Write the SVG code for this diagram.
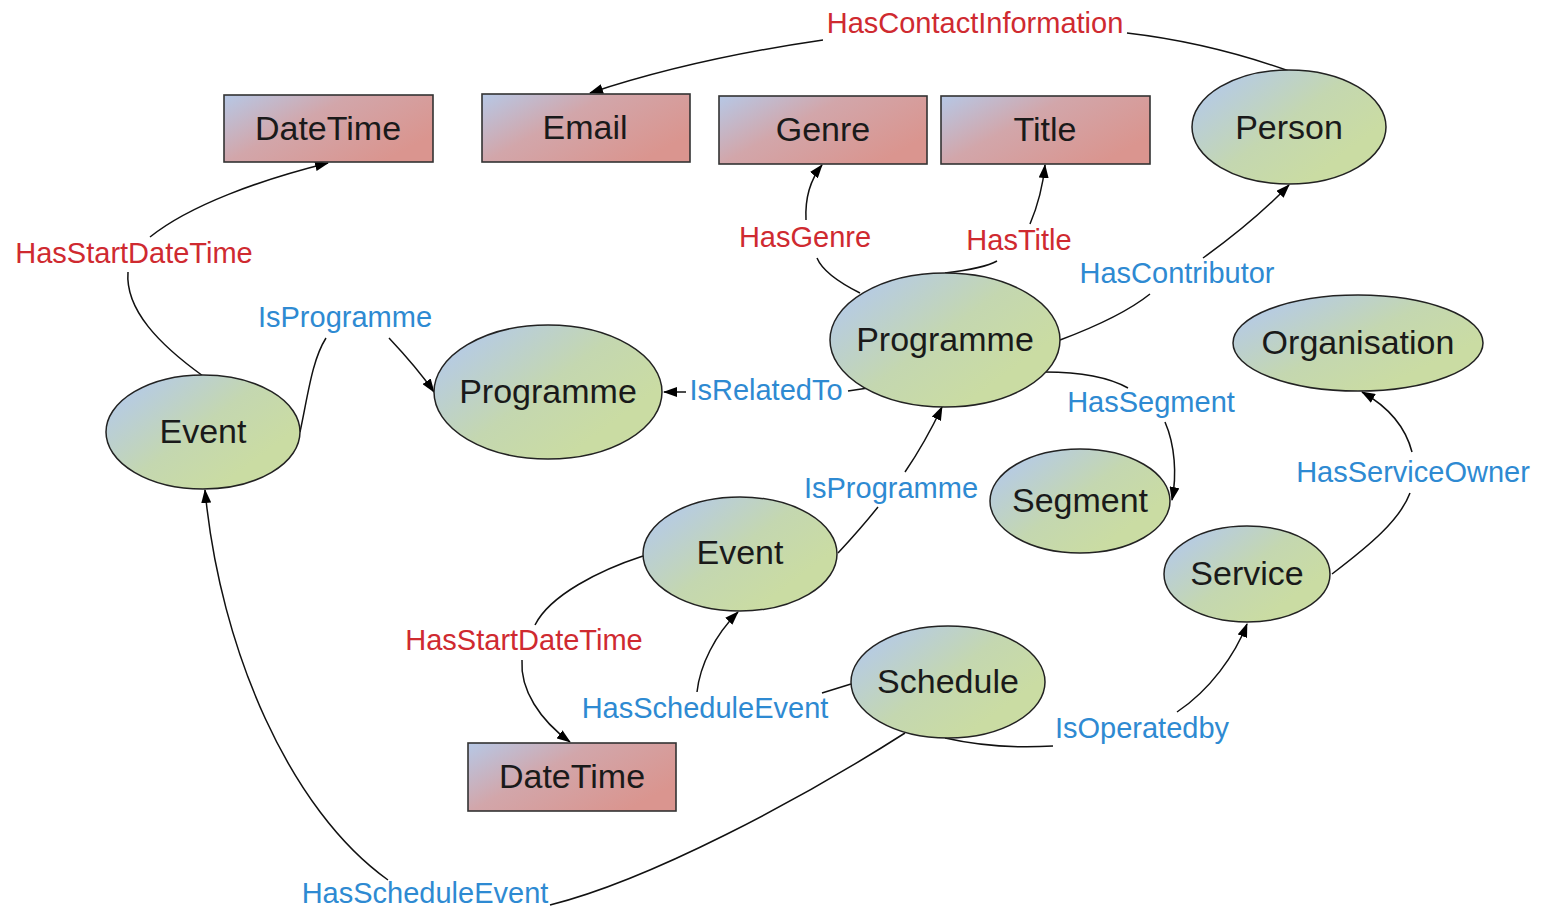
<svg xmlns="http://www.w3.org/2000/svg" width="1550" height="907" viewBox="0 0 1550 907">
<defs>
<linearGradient id="gr" x1="0" y1="0" x2="1" y2="0.6">
<stop offset="0" stop-color="#b6c8e6"/>
<stop offset="0.45" stop-color="#d2a6aa"/>
<stop offset="1" stop-color="#da958f"/>
</linearGradient>
<linearGradient id="ge" x1="0.15" y1="0.1" x2="0.85" y2="0.65">
<stop offset="0" stop-color="#b6cbe4"/>
<stop offset="0.55" stop-color="#c4d7b0"/>
<stop offset="1" stop-color="#cadca3"/>
</linearGradient>
<marker id="ar" markerWidth="14" markerHeight="10" refX="13" refY="5" orient="auto" markerUnits="userSpaceOnUse">
<path d="M0,0 L14,5 L0,10 Z" fill="#000"/>
</marker>
<style>
.r{fill:url(#gr);stroke:#333;stroke-width:1.6}
.e{fill:url(#ge);stroke:#222;stroke-width:1.5}
.n{font-family:"Liberation Sans",Arial,sans-serif;font-size:34px;fill:#1a1a1a;text-anchor:middle}
.l{font-family:"Liberation Sans",Arial,sans-serif;font-size:29px;text-anchor:middle}
.red{fill:#cf2a30}
.blue{fill:#2e8ad2}
.c{fill:none;stroke:#111;stroke-width:1.5}
.a{marker-end:url(#ar)}
</style>
</defs>
<rect width="1550" height="907" fill="#fff"/>
<g id="connectors">
<path class="c" d="M1289,71 C1230,50 1170,38 1127,33"/>
<path class="c a" d="M823,40 C720,55 650,73 590,93"/>
<path class="c" d="M203,376 C160,345 125,310 128,272"/>
<path class="c a" d="M150,237 C190,205 260,180 328,163"/>
<path class="c" d="M300,432 C308,395 312,360 326,338"/>
<path class="c a" d="M389,338 C405,355 420,372 434,392"/>
<path class="c" d="M868,388 L848,391"/>
<path class="c a" d="M686,392 L664,392"/>
<path class="c" d="M860,293 C838,282 822,270 817,258"/>
<path class="c a" d="M806,220 C805,200 810,180 822,165"/>
<path class="c" d="M945,273 C970,270 990,265 997,261"/>
<path class="c a" d="M1030,224 C1038,205 1043,185 1045,165"/>
<path class="c" d="M1060,340 C1100,325 1130,310 1150,294"/>
<path class="c a" d="M1203,258 C1235,235 1265,210 1289,185"/>
<path class="c" d="M1045,372 C1080,372 1110,378 1128,388"/>
<path class="c a" d="M1165,422 C1175,445 1177,475 1172,500"/>
<path class="c" d="M838,553 C852,538 866,522 878,507"/>
<path class="c a" d="M905,472 C920,450 932,428 942,407"/>
<path class="c" d="M643,556 C600,570 550,595 535,625"/>
<path class="c a" d="M522,660 C520,690 540,720 570,742"/>
<path class="c" d="M851,684 L822,693"/>
<path class="c a" d="M697,692 C700,665 715,635 738,612"/>
<path class="c" d="M945,738 C980,746 1020,748 1053,746"/>
<path class="c a" d="M1177,712 C1210,690 1235,655 1247,624"/>
<path class="c" d="M1332,574 C1370,545 1400,520 1410,493"/>
<path class="c a" d="M1412,452 C1405,425 1385,405 1362,392"/>
<path class="c" d="M905,733 C800,800 650,880 550,905"/>
<path class="c a" d="M388,880 C290,810 220,650 205,490"/>
</g>
<g id="labels">
<text class="l red" x="975" y="33">HasContactInformation</text>
<text class="l red" x="134" y="263">HasStartDateTime</text>
<text class="l blue" x="345" y="327">IsProgramme</text>
<text class="l blue" x="766" y="400">IsRelatedTo</text>
<text class="l red" x="805" y="247">HasGenre</text>
<text class="l red" x="1019" y="250">HasTitle</text>
<text class="l blue" x="1177" y="283">HasContributor</text>
<text class="l blue" x="1151" y="412">HasSegment</text>
<text class="l blue" x="891" y="498">IsProgramme</text>
<text class="l blue" x="1413" y="482">HasServiceOwner</text>
<text class="l red" x="524" y="650">HasStartDateTime</text>
<text class="l blue" x="705" y="718">HasScheduleEvent</text>
<text class="l blue" x="1142" y="738">IsOperatedby</text>
<text class="l blue" x="425" y="903">HasScheduleEvent</text>
</g>
<g id="datetime1"><rect class="r" x="224" y="95" width="209" height="67"/><text class="n" x="328" y="140">DateTime</text></g>
<g id="email"><rect class="r" x="482" y="94" width="208" height="68"/><text class="n" x="585" y="139">Email</text></g>
<g id="genre"><rect class="r" x="719" y="96" width="208" height="68"/><text class="n" x="823" y="141">Genre</text></g>
<g id="title"><rect class="r" x="941" y="96" width="209" height="68"/><text class="n" x="1045" y="141">Title</text></g>
<g id="datetime2"><rect class="r" x="468" y="743" width="208" height="68"/><text class="n" x="572" y="788">DateTime</text></g>
<g id="person"><ellipse class="e" cx="1289" cy="127" rx="97" ry="57"/><text class="n" x="1289" y="139">Person</text></g>
<g id="programme1"><ellipse class="e" cx="945" cy="340" rx="115" ry="67"/><text class="n" x="945" y="351">Programme</text></g>
<g id="programme2"><ellipse class="e" cx="548" cy="392" rx="114" ry="67"/><text class="n" x="548" y="403">Programme</text></g>
<g id="event1"><ellipse class="e" cx="203" cy="432" rx="97" ry="57"/><text class="n" x="203" y="443">Event</text></g>
<g id="organisation"><ellipse class="e" cx="1358" cy="343" rx="125" ry="48"/><text class="n" x="1358" y="354">Organisation</text></g>
<g id="segment"><ellipse class="e" cx="1080" cy="501" rx="90" ry="52"/><text class="n" x="1080" y="512">Segment</text></g>
<g id="event2"><ellipse class="e" cx="740" cy="554" rx="97" ry="57"/><text class="n" x="740" y="564">Event</text></g>
<g id="service"><ellipse class="e" cx="1247" cy="574" rx="83" ry="48"/><text class="n" x="1247" y="585">Service</text></g>
<g id="schedule"><ellipse class="e" cx="948" cy="682" rx="97" ry="56"/><text class="n" x="948" y="693">Schedule</text></g>
</svg>
